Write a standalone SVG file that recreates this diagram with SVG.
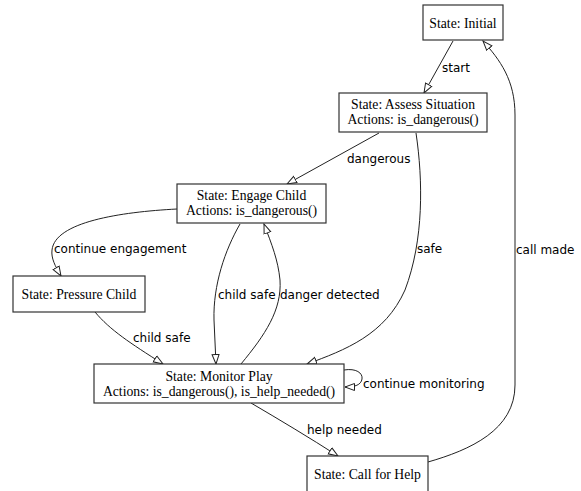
<svg xmlns="http://www.w3.org/2000/svg" width="581" height="491" viewBox="0 0 581 491">
<style>
.box{fill:#fff;stroke:#333;stroke-width:1.2}
.nt{font-family:"Liberation Serif","Times New Roman",serif;font-size:13.7px;fill:#000;text-anchor:middle}
.el{font-family:"DejaVu Sans",Verdana,sans-serif;font-size:12px;fill:#000}
.edge{fill:none;stroke:#222;stroke-width:1;marker-end:url(#arr)}
</style>
<defs>
<marker id="arr" markerUnits="userSpaceOnUse" markerWidth="12" markerHeight="10" refX="10" refY="4" orient="auto" viewBox="0 0 12 8">
<path d="M0.5,0.5 L10,4 L0.5,7.5 Z" fill="#fff" stroke="#222" stroke-width="1"/>
</marker>
</defs>
<rect width="581" height="491" fill="#fff"/>
<g id="connectors">
<path class="edge" d="M453,41 L424,93"/>
<path class="edge" d="M379,133 L287,184"/>
<path class="edge" d="M416,133 C423,180 424,240 405,290 C385,335 345,350 307,364"/>
<path class="edge" d="M177,209 C120,212 55,222 52,250 C51,258 55,266 61,276"/>
<path class="edge" d="M95,312 C110,330 130,343 163,364"/>
<path class="edge" d="M240,224 C225,250 213,285 214,320 L216,364"/>
<path class="edge" d="M241,364 C265,335 282,310 280,280 C278,260 272,245 264,224"/>
<path class="edge" d="M344,370 C356,368 363,373 362,379 C361,385 355,387 345,387"/>
<path class="edge" d="M251,403 C280,420 310,438 338,456"/>
<path class="edge" d="M428,462 C470,450 515,430 515,385 L515,115 C515,80 500,60 483,41"/>
</g>
<g id="labels">
<text class="el" x="442" y="72">start</text>
<text class="el" x="347" y="163">dangerous</text>
<text class="el" x="417" y="253">safe</text>
<text class="el" x="54" y="253">continue engagement</text>
<text class="el" x="133" y="342">child safe</text>
<text class="el" x="218" y="299">child safe</text>
<text class="el" x="280" y="299">danger detected</text>
<text class="el" x="516" y="254">call made</text>
<text class="el" x="363" y="388">continue monitoring</text>
<text class="el" x="307" y="434">help needed</text>
</g>
<g id="initial"><rect class="box" x="423" y="5" width="80" height="35"/><text class="nt" x="463" y="28">State: Initial</text></g>
<g id="assess"><rect class="box" x="339" y="93" width="148" height="39"/><text class="nt" x="413" y="109">State: Assess Situation</text><text class="nt" x="413" y="124">Actions: is_dangerous()</text></g>
<g id="engage"><rect class="box" x="177" y="184" width="149" height="39"/><text class="nt" x="251.5" y="200">State: Engage Child</text><text class="nt" x="251.5" y="215">Actions: is_dangerous()</text></g>
<g id="pressure"><rect class="box" x="13" y="276" width="132" height="36"/><text class="nt" x="79" y="299">State: Pressure Child</text></g>
<g id="monitor"><rect class="box" x="94" y="364" width="250" height="39"/><text class="nt" x="219" y="381">State: Monitor Play</text><text class="nt" x="219" y="396">Actions: is_dangerous(), is_help_needed()</text></g>
<g id="callhelp"><rect class="box" x="307" y="456" width="121" height="40"/><text class="nt" x="367.5" y="479">State: Call for Help</text></g>
</svg>
